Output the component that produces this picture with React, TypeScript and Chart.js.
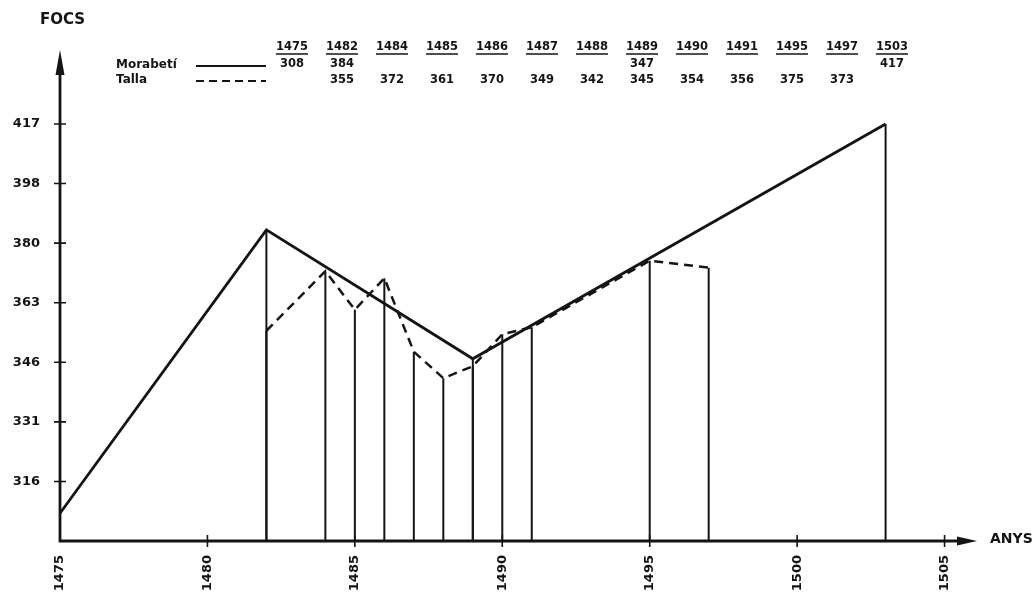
import React, { useEffect, useRef } from 'react';
import { Chart, LinearScale, registerables } from 'chart.js';

Chart.register(...registerables);

// dades llegides de la taula del gràfic
const moraYears = [1475, 1482, 1489, 1503];
const moraValues = [308, 384, 347, 417];
const tallaYears = [1482, 1484, 1485, 1486, 1487, 1488, 1489, 1490, 1491, 1495, 1497];
const tallaValues = [355, 372, 361, 370, 349, 342, 345, 354, 356, 375, 373];
const yTicks = [316, 331, 346, 363, 380, 398, 417];
const xTicks = [1475, 1480, 1485, 1490, 1495, 1500, 1505];

const tableYears = Array.from(new Set([...moraYears, ...tallaYears])).sort((a, b) => a - b);

const INK = '#141414';
const FONT = '"DejaVu Sans", sans-serif';

// the y axis of the original is not linear: every labelled value sits one equal step apart
const toIdx = (v: number) => {
  const t = yTicks;
  let i = 1;
  while (i < t.length - 1 && v > t[i]) i++;
  return i - 1 + (v - t[i - 1]) / (t[i] - t[i - 1]);
};
const fromIdx = (k: number) => {
  const t = yTicks;
  const i = Math.min(Math.max(Math.floor(k), 0), t.length - 2);
  return t[i] + (k - i) * (t[i + 1] - t[i]);
};

class PiecewiseScale extends LinearScale {
  static id = 'piecewise';
  static defaults = {};
  getPixelForValue(value: any) {
    if (value === null || value === undefined) return NaN;
    const a = toIdx(this.min);
    const b = toIdx(this.max);
    return this.getPixelForDecimal((toIdx(value) - a) / (b - a));
  }
  getValueForPixel(pixel: number) {
    const a = toIdx(this.min);
    const b = toIdx(this.max);
    return fromIdx(a + this.getDecimalForPixel(pixel) * (b - a));
  }
}
Chart.register(PiecewiseScale as any);

const decorPlugin = {
  id: 'decor',
  beforeDatasetsDraw(chart: any) {
    // vertical drop lines from each point to the x axis
    const { ctx, chartArea } = chart;
    ctx.save();
    ctx.strokeStyle = INK;
    ctx.lineWidth = 2;
    chart.data.datasets.forEach((_: any, di: number) => {
      chart.getDatasetMeta(di).data.forEach((pt: any) => {
        if (pt.x - chartArea.left < 2) return;
        ctx.beginPath();
        ctx.moveTo(pt.x, pt.y);
        ctx.lineTo(pt.x, chartArea.bottom);
        ctx.stroke();
      });
    });
    ctx.restore();
  },
  afterDraw(chart: any) {
    const { ctx, chartArea } = chart;
    const xs = chart.scales.x;
    const ys = chart.scales.y;
    const left = chartArea.left;
    const bottom = chartArea.bottom;
    ctx.save();
    ctx.strokeStyle = INK;
    ctx.fillStyle = INK;

    // axes
    ctx.lineWidth = 2.8;
    ctx.beginPath();
    ctx.moveTo(left, bottom + 1.4);
    ctx.lineTo(left, 66);
    ctx.moveTo(left - 1.4, bottom);
    ctx.lineTo(chartArea.right - 14, bottom);
    ctx.stroke();

    ctx.beginPath();
    ctx.moveTo(left, 50);
    ctx.lineTo(left + 4.5, 75);
    ctx.lineTo(left - 4.5, 75);
    ctx.closePath();
    ctx.fill();

    ctx.beginPath();
    ctx.moveTo(chartArea.right, bottom);
    ctx.lineTo(chartArea.right - 20, bottom - 4.5);
    ctx.lineTo(chartArea.right - 20, bottom + 4.5);
    ctx.closePath();
    ctx.fill();

    // cross ticks
    ctx.lineWidth = 1.6;
    ctx.beginPath();
    yTicks.forEach(v => {
      const y = ys.getPixelForValue(v);
      ctx.moveTo(left - 6, y);
      ctx.lineTo(left + 6, y);
    });
    xTicks.slice(1).forEach(v => {
      const x = xs.getPixelForValue(v);
      ctx.moveTo(x, bottom - 6);
      ctx.lineTo(x, bottom + 6);
    });
    ctx.stroke();

    // axis titles
    ctx.textBaseline = 'middle';
    ctx.textAlign = 'left';
    ctx.font = `bold 15px ${FONT}`;
    ctx.fillText('FOCS', 40, 20);
    ctx.font = `bold 14px ${FONT}`;
    ctx.fillText('ANYS', chartArea.right + 13, bottom - 2);

    // legend
    ctx.font = `bold 12px ${FONT}`;
    ctx.fillText('Morabetí', 116, 65);
    ctx.fillText('Talla', 116, 80);
    ctx.lineWidth = 2.2;
    ctx.beginPath();
    ctx.moveTo(196, 66);
    ctx.lineTo(266, 66);
    ctx.stroke();
    ctx.setLineDash([8, 5]);
    ctx.beginPath();
    ctx.moveTo(196, 81);
    ctx.lineTo(266, 81);
    ctx.stroke();
    ctx.setLineDash([]);

    // value table
    ctx.textAlign = 'center';
    ctx.font = `bold 11.5px ${FONT}`;
    ctx.lineWidth = 1.3;
    tableYears.forEach((yr, i) => {
      const cx = 292 + i * 50;
      ctx.fillText(String(yr), cx, 47);
      const w = ctx.measureText(String(yr)).width;
      ctx.beginPath();
      ctx.moveTo(cx - w / 2, 54);
      ctx.lineTo(cx + w / 2, 54);
      ctx.stroke();
      const mi = moraYears.indexOf(yr);
      if (mi >= 0) ctx.fillText(String(moraValues[mi]), cx, 64);
      const ti = tallaYears.indexOf(yr);
      if (ti >= 0) ctx.fillText(String(tallaValues[ti]), cx, 80);
    });
    ctx.restore();
  },
};

export default function App() {
  const canvasRef = useRef<HTMLCanvasElement | null>(null);

  useEffect(() => {
    if (!canvasRef.current) return;
    const tickFont = { family: FONT, size: 13, weight: 'bold' as const };
    const chart = new Chart(canvasRef.current, {
      type: 'line',
      data: {
        datasets: [
          {
            label: 'Morabetí',
            data: moraYears.map((x, i) => ({ x, y: moraValues[i] })),
            borderColor: INK,
            borderWidth: 2.8,
            pointRadius: 0,
            tension: 0,
            clip: false,
          },
          {
            label: 'Talla',
            data: tallaYears.map((x, i) => ({ x, y: tallaValues[i] })),
            borderColor: INK,
            borderWidth: 2.5,
            borderDash: [9, 6],
            pointRadius: 0,
            tension: 0,
            clip: false,
          },
        ],
      },
      options: {
        animation: false,
        responsive: true,
        maintainAspectRatio: false,
        layout: { padding: { top: 124, right: 59, left: 0, bottom: 0 } },
        plugins: { legend: { display: false }, tooltip: { enabled: false } },
        scales: {
          x: {
            type: 'linear',
            min: 1475,
            max: 1506.1,
            grid: { display: false },
            border: { display: false },
            afterBuildTicks: (s: any) => { s.ticks = xTicks.map(v => ({ value: v })); },
            afterFit: (s: any) => { s.height = 55; },
            ticks: {
              minRotation: 90,
              maxRotation: 90,
              padding: 6,
              color: INK,
              font: tickFont,
              callback: (v: any) => String(v),
            },
          },
          y: {
            type: 'piecewise' as any,
            min: 301,
            max: 417,
            grid: { display: false },
            border: { display: false },
            afterBuildTicks: (s: any) => { s.ticks = yTicks.map(v => ({ value: v })); },
            afterFit: (s: any) => { s.width = 60; },
            ticks: {
              padding: 12,
              color: INK,
              font: tickFont,
              callback: (v: any) => String(v),
            },
          },
        },
      } as any,
      plugins: [decorPlugin],
    });
    return () => chart.destroy();
  }, []);

  return (
    <div style={{ position: 'fixed', left: 0, top: 0, width: 1036, height: 596, background: '#fff' }}>
      <canvas ref={canvasRef} />
    </div>
  );
}
